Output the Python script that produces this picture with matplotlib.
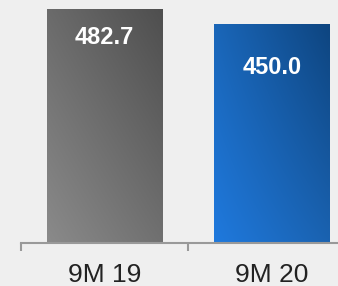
import numpy as np
import matplotlib
matplotlib.use("Agg")
import matplotlib.pyplot as plt
from matplotlib.colors import to_rgb

categories = ["9M 19", "9M 20"]
values = [482.7, 450.0]
value_labels = ["482.7", "450.0"]

# corner colours: (top-left, top-right, bottom-left, bottom-right)
gradients = [
    ("#6b6b6b", "#4f4f4f", "#8a8a8a", "#707070"),
    ("#1a66b8", "#0e4580", "#1f79dd", "#1a62b0"),
]
label_offsets_px = [-28, -43]

W, H = 338, 286
fig = plt.figure(figsize=(W / 100, H / 100), dpi=100)
fig.patch.set_facecolor("#efefef")
base_y = 243.0
px_per_unit = (base_y - 9.0) / 482.7
ymax = 500
ax = fig.add_axes([20.7 / W, (H - base_y) / H, 335.0 / W, ymax * px_per_unit / H])
ax.set_facecolor("#efefef")
ax.set_xlim(-0.5, 1.5)
ax.set_ylim(0, ymax)

bar_w = 0.69
x = np.arange(len(categories))
bars = ax.bar(x, values, width=bar_w, color="none", edgecolor="none")

for b, (tl, tr, bl, br) in zip(bars, gradients):
    n = 64
    u = np.linspace(0, 1, n)[None, :, None]
    v = np.linspace(0, 1, n)[:, None, None]  # 0 = top row, 1 = bottom row
    tl, tr, bl, br = [np.array(to_rgb(c))[None, None, :] for c in (tl, tr, bl, br)]
    img = (1 - v) * ((1 - u) * tl + u * tr) + v * ((1 - u) * bl + u * br)
    x0 = b.get_x()
    ax.imshow(img, extent=[x0, x0 + b.get_width(), 0, b.get_height()],
              aspect="auto", interpolation="bilinear", zorder=2)

ax.set_xlim(-0.5, 1.5)
ax.set_ylim(0, ymax)

for xi, v, lab, off in zip(x, values, value_labels, label_offsets_px):
    ax.annotate(lab, (xi, v), xytext=(0, off * 0.72), textcoords="offset points",
                ha="center", va="center", color="white", fontsize=17,
                fontweight="bold", family="Liberation Sans", zorder=3)

for s in ["top", "right", "left"]:
    ax.spines[s].set_visible(False)
ax.spines["bottom"].set_color("#999999")
ax.spines["bottom"].set_linewidth(1.5)
ax.spines["bottom"].set_zorder(4)
ax.set_yticks([])
ax.set_xticks([-0.5, 0.5, 1.5])
ax.set_xticklabels([])
ax.tick_params(axis="x", which="major", length=6, width=1.5, color="#999999")
ax.set_xticks(x, minor=True)
ax.set_xticklabels(categories, minor=True, fontsize=19, family="Liberation Sans",
                   color="#222222")
ax.tick_params(axis="x", which="minor", length=0, pad=14.5)

fig.savefig("out.png", dpi=100, facecolor=fig.get_facecolor())
